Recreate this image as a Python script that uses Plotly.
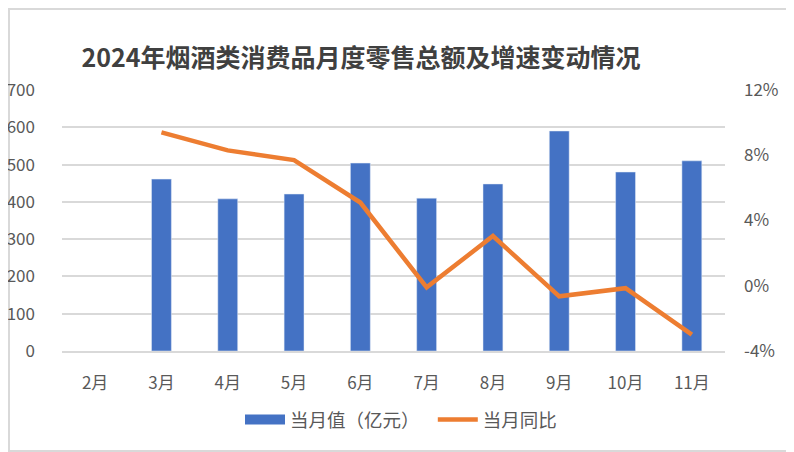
import plotly.graph_objects as go

months = ["2月", "3月", "4月", "5月", "6月", "7月", "8月", "9月", "10月", "11月"]
retail_value = [None, 461, 408, 421, 504, 410, 448, 590, 480, 510]
yoy_growth = [None, 9.4, 8.3, 7.7, 5.1, -0.1, 3.05, -0.65, -0.15, -3.0]

left_ticks = [0, 100, 200, 300, 400, 500, 600, 700]
right_ticks = [-4, 0, 4, 8, 12]
right_labels = ["-4%", "0%", "4%", "8%", "12%"]

font = "Noto Sans CJK SC"
grey = "#595959"
blue = "#4472C4"
orange = "#ED7D31"

# page has an 8px body margin, so the figure is drawn 8px in from the window edge
W, H = 786, 444
L, R, T, B = 54, 69, 82, 101
pw, ph = W - L - R, H - T - B

fig = go.Figure()

fig.add_trace(go.Bar(
    x=months,
    y=retail_value,
    name="当月值（亿元）",
    marker_color=blue,
    showlegend=False,
    yaxis="y",
))

# legend-only entry so the bar key shows as a wide block like Excel
fig.add_trace(go.Scatter(
    x=[None], y=[None],
    name="当月值（亿元）" + "\u00a0" * 2,
    mode="lines",
    line=dict(color=blue, width=12),
    yaxis="y",
))

fig.add_trace(go.Scatter(
    x=months,
    y=yoy_growth,
    name="当月同比",
    mode="lines",
    line=dict(color=orange, width=4.5),
    yaxis="y2",
))

fig.update_layout(
    width=W,
    height=H,
    margin=dict(l=L, r=R, t=T, b=B),
    paper_bgcolor="white",
    plot_bgcolor="white",
    font=dict(family=font, size=16, color=grey),
    bargap=0.7,
    title=dict(
        text="<b>2024年烟酒类消费品月度零售总额及增速变动情况</b>",
        x=353 / W,
        xanchor="center",
        xref="container",
        y=1 - 50 / H,
        yanchor="middle",
        yref="container",
        font=dict(family=font, size=25, color="#404040"),
    ),
    xaxis=dict(
        showgrid=False,
        showline=True,
        linecolor="#d9d9d9",
        linewidth=1.5,
        ticks="",
        ticklabelstandoff=16,
        automargin=False,
        tickfont=dict(size=17),
    ),
    yaxis=dict(
        range=[0, 700],
        tickvals=left_ticks,
        showgrid=True,
        gridcolor="#d9d9d9",
        gridwidth=1.5,
        zeroline=False,
        ticks="",
        ticklabelstandoff=26,
        automargin=False,
        tickfont=dict(size=17),
    ),
    yaxis2=dict(
        range=[-4, 12],
        tickvals=right_ticks,
        ticktext=right_labels,
        overlaying="y",
        side="right",
        showgrid=False,
        zeroline=False,
        ticks="",
        ticklabelstandoff=18,
        automargin=False,
        tickfont=dict(size=17),
    ),
    legend=dict(
        orientation="h",
        x=393 / W,
        xanchor="center",
        xref="container",
        y=1 - 412 / H,
        yanchor="middle",
        yref="container",
        font=dict(family=font, size=18.5, color=grey),
        itemwidth=40,
        traceorder="normal",
    ),
    shapes=[dict(
        type="rect",
        xref="paper", yref="paper",
        x0=(1 - L) / pw, x1=(W - 1 - L) / pw,
        y0=(H - B - (H - 1)) / ph, y1=(H - B - 1) / ph,
        line=dict(color="#d9d9d9", width=2),
        layer="below",
    )],
)

fig.write_html("out.html")
